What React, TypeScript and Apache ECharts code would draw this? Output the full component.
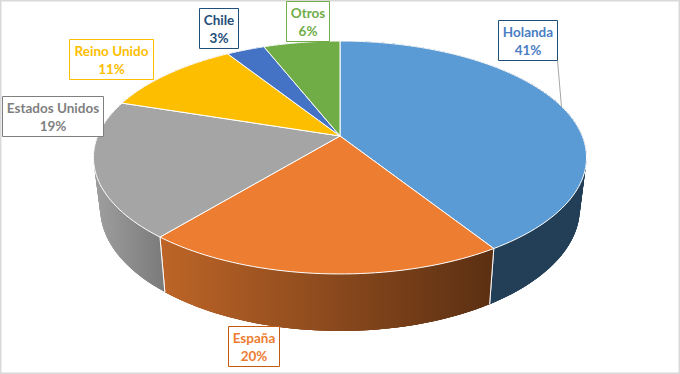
import React, { useEffect, useRef } from "react";
import * as echarts from "echarts";

const categories = ["Holanda", "España", "Estados Unidos", "Reino Unido", "Chile", "Otros"];
const shares = [41, 20, 19, 11, 3, 6];

const topColors = ["#5B9BD5", "#ED7D31", "#A5A5A5", "#FDBE00", "#4472C4", "#70AD47"];
const sideColors: any[] = [
  "#233F57",
  ["#BC6427", "#5C3013"],
  ["#9C9C9C", "#7A7A7A"],
  "#997300",
  "#2A4479",
  "#43682B",
];
const textColors = ["#4A7EC4", "#ED7D31", "#7F7F7F", "#FDBE00", "#1F4E79", "#70AD47"];
const borderColors = ["#1F4E79", "#C55A11", "#7F7F7F", "#FDBE00", "#1F4E79", "#70AD47"];
// label boxes: left, top, width, height
const labelBoxes = [
  [498, 20, 59, 40],
  [228, 326, 51, 40],
  [2, 96, 101, 40],
  [69, 39, 84, 40],
  [199, 8, 39, 40],
  [286, 1, 43, 40],
];

const CX = 340;
const CY = 136;
const P = -0.1845;
const A = 112.5;
const B = 242.3;
const TOTAL = shares.reduce((s, v) => s + v, 0);

function topPoint(frac: number): number[] {
  const th = frac * Math.PI * 2;
  const u = Math.sin(th);
  const v = -Math.cos(th);
  const w = 1 + P * v;
  return [CX + (B * u) / w, CY + (A * v) / w];
}
function bottomPoint(frac: number): number[] {
  const [x, y] = topPoint(frac);
  return [CX + (x - CX) * 0.973, y + 55 + (y - 237) * 0.054];
}
function range(i: number): number[] {
  let s = 0;
  for (let k = 0; k < i; k++) s += shares[k];
  return [s / TOTAL, (s + shares[i]) / TOTAL];
}
function arc(i: number, fn: (f: number) => number[]): number[][] {
  const [a, b] = range(i);
  const n = Math.max(6, Math.round((b - a) * 240));
  const pts: number[][] = [];
  for (let k = 0; k <= n; k++) pts.push(fn(a + ((b - a) * k) / n));
  return pts;
}

function renderSide(params: any) {
  const i = params.dataIndex;
  const c = sideColors[i];
  const top = arc(i, topPoint);
  const bottom = arc(i, bottomPoint);
  const xs = bottom.map((p) => p[0]);
  const fill = Array.isArray(c)
    ? new echarts.graphic.LinearGradient(
        Math.min(...xs),
        0,
        Math.max(...xs),
        0,
        [
          { offset: 0, color: c[0] },
          { offset: 1, color: c[1] },
        ],
        true
      )
    : c;
  const children: any[] = [];
  // overlapping quads close the wedge between the two rims where the side wraps round
  for (let k = 0; k < top.length - 1; k++) {
    const e = Math.min(k + 3, top.length - 1);
    children.push({
      type: "polygon",
      shape: { points: [top[k], top[e], bottom[e], bottom[k]] },
      style: { fill },
    });
  }
  children.push({
    type: "polygon",
    shape: { points: [...top, ...bottom.slice().reverse()] },
    style: { fill },
  });
  [0, top.length - 1].forEach((k) => {
    children.push({
      type: "line",
      shape: { x1: top[k][0], y1: top[k][1], x2: bottom[k][0], y2: bottom[k][1] },
      style: { stroke: "#FFFFFF", lineWidth: 1 },
    });
  });
  return { type: "group", children, silent: true };
}
function renderTop(params: any) {
  const i = params.dataIndex;
  return {
    type: "polygon",
    shape: { points: [[CX, CY], ...arc(i, topPoint)] },
    style: { fill: topColors[i], stroke: "#FFFFFF", lineWidth: 1 },
    silent: true,
  };
}
function renderLabel(params: any, api: any) {
  const i = params.dataIndex;
  const [x, y, w, h] = labelBoxes[i];
  const children: any[] = [];
  if (i === 0) {
    children.push({
      type: "line",
      shape: { x1: 557.5, y1: 60.5, x2: 561.5, y2: 107 },
      style: { stroke: "#A6A6A6", lineWidth: 1 },
    });
  }
  children.push({
    type: "rect",
    shape: { x: x + 0.5, y: y + 0.5, width: w, height: h },
    style: { fill: "#FFFFFF", stroke: borderColors[i], lineWidth: 1 },
  });
  children.push({
    type: "text",
    style: {
      x: x + w / 2 + 0.5,
      y: y + h / 2 + 0.5,
      text: `${categories[i]}\n${api.value(0)}%`,
      fill: textColors[i],
      font: "bold 13.5px Lato, 'Open Sans', sans-serif",
      lineHeight: 18,
      align: "center",
      verticalAlign: "middle",
    },
  });
  return { type: "group", children, silent: true };
}

export default function App() {
  const ref = useRef<HTMLDivElement>(null);
  useEffect(() => {
    const chart = echarts.init(ref.current!, null, { renderer: "svg" });
    chart.setOption({
      animation: false,
      backgroundColor: "#FFFFFF",
      tooltip: { show: false },
      graphic: [
        {
          type: "rect",
          z: 0,
          shape: { x: 0.5, y: 0.5, width: 679, height: 373 },
          style: { fill: "none", stroke: "#D9D9D9", lineWidth: 2 },
          silent: true,
        },
      ],
      series: [
        { type: "custom", coordinateSystem: "none", renderItem: renderSide, data: shares, z: 2 },
        { type: "custom", coordinateSystem: "none", renderItem: renderTop, data: shares, z: 3 },
        { type: "custom", coordinateSystem: "none", renderItem: renderLabel, data: shares, z: 4 },
      ],
    });
    return () => chart.dispose();
  }, []);
  return <div ref={ref} style={{ position: "absolute", left: 0, top: 0, width: 680, height: 374 }} />;
}
